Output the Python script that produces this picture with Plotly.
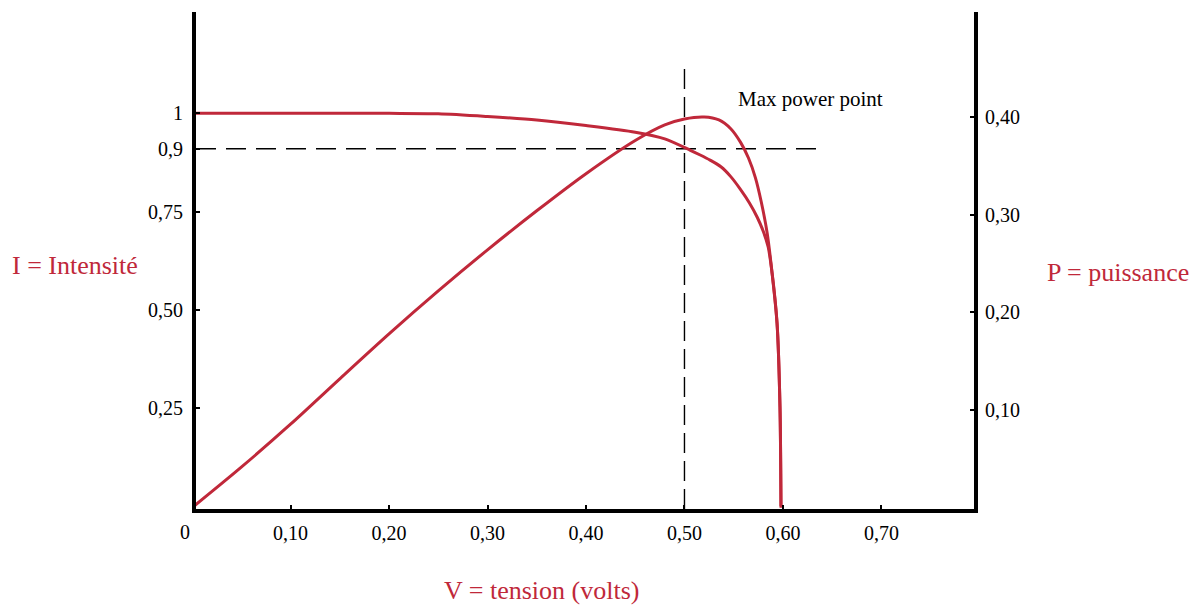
import plotly.graph_objects as go

# ---- data ----
V_I = [0.0, 0.10, 0.20, 0.25, 0.30, 0.35, 0.40, 0.45, 0.48, 0.506, 0.516, 0.526, 0.537,
       0.547, 0.557, 0.566, 0.574, 0.580, 0.585, 0.589, 0.594, 0.597, 0.598]
I_vals = [1.0, 1.0, 1.0, 0.999, 0.992, 0.983, 0.969, 0.952, 0.935, 0.906, 0.894, 0.881,
          0.864, 0.839, 0.806, 0.772, 0.735, 0.700, 0.660, 0.593, 0.466, 0.252, 0.0]

V_P = [0.0, 0.05, 0.10, 0.15, 0.20, 0.25, 0.30, 0.35, 0.40, 0.45, 0.48, 0.50, 0.52,
       0.535, 0.547, 0.557, 0.565, 0.572, 0.578, 0.584, 0.589, 0.594, 0.597, 0.598]
P_vals = [0.0, 0.0415, 0.0855, 0.132, 0.178, 0.222, 0.264, 0.304, 0.342, 0.376, 0.392,
          0.398, 0.400, 0.397, 0.388, 0.374, 0.358, 0.338, 0.313, 0.281, 0.240, 0.189,
          0.103, 0.0]

x_tickvals = [0.1, 0.2, 0.3, 0.4, 0.5, 0.6, 0.7]
x_ticktext = ["0,10", "0,20", "0,30", "0,40", "0,50", "0,60", "0,70"]
yI_tickvals = [0.25, 0.5, 0.75, 0.91, 1.0]
yI_ticktext = ["0,25", "0,50", "0,75", "0,9", "1"]
yP_tickvals = [0.1, 0.2, 0.3, 0.4]
yP_ticktext = ["0,10", "0,20", "0,30", "0,40"]

v_mpp = 0.5          # vertical dashed line (max power voltage)
v_mpp_top = 1.122
i_ref = 0.91         # horizontal dashed line
v_ref_end = 0.638

RED = "#C0283A"
FONT = "Liberation Serif"

x_range = [0.004, 0.794]
yI_range = [-0.007, 1.258]
yP_range = [-0.0013, 0.5075]

fig = go.Figure()

fig.add_trace(go.Scatter(x=[x_range[0], v_ref_end], y=[i_ref, i_ref], mode="lines",
                         line=dict(color="black", width=1.4, dash="20px,10px"),
                         hoverinfo="skip", showlegend=False))
fig.add_trace(go.Scatter(x=[v_mpp, v_mpp], y=[yI_range[0], v_mpp_top], mode="lines",
                         line=dict(color="black", width=1.4, dash="20px,8px"),
                         hoverinfo="skip", showlegend=False))

fig.add_trace(go.Scatter(x=V_I, y=I_vals, mode="lines", name="I",
                         line=dict(color=RED, width=3, shape="spline", smoothing=0.8),
                         showlegend=False))
fig.add_trace(go.Scatter(x=V_P, y=P_vals, mode="lines", name="P", yaxis="y2",
                         line=dict(color=RED, width=3, shape="spline", smoothing=0.8),
                         showlegend=False))

axis_common = dict(showgrid=False, zeroline=False, showline=True, linecolor="black",
                   linewidth=4, ticks="inside", ticklen=4, tickwidth=2, tickcolor="black",
                   tickfont=dict(family=FONT, size=20, color="black"))

L, R, T, B = 196, 226, 12, 99

fig.update_layout(
    width=1200, height=608,
    margin=dict(l=L, r=R, t=T, b=B, autoexpand=False),
    plot_bgcolor="white", paper_bgcolor="white",
    xaxis=dict(range=x_range, tickvals=x_tickvals, ticktext=x_ticktext,
               ticklabelstandoff=3, **axis_common),
    yaxis=dict(range=yI_range, tickvals=yI_tickvals, ticktext=yI_ticktext,
               ticklabelstandoff=5, **axis_common),
    yaxis2=dict(range=yP_range, tickvals=yP_tickvals, ticktext=yP_ticktext,
                overlaying="y", side="right", ticklabelstandoff=3, **axis_common),
)

pw, ph = 1200 - L - R, 608 - T - B


def px_ann(text, px, py, size, color):
    fig.add_annotation(text=text, x=(px - L) / pw, y=1 - (py - T) / ph,
                       xref="paper", yref="paper", xanchor="center", yanchor="middle",
                       showarrow=False, font=dict(family=FONT, size=size, color=color))


px_ann("0", 185, 532, 20, "black")
px_ann("Max power point", 810, 99, 21, "black")
px_ann("I = Intensité", 75, 265, 26, RED)
px_ann("P = puissance", 1118, 272, 26, RED)
px_ann("V = tension (volts)", 541, 590, 26, RED)

fig.write_html("out.html", config={"displayModeBar": False},
               post_script="document.body.style.margin='0px';")
